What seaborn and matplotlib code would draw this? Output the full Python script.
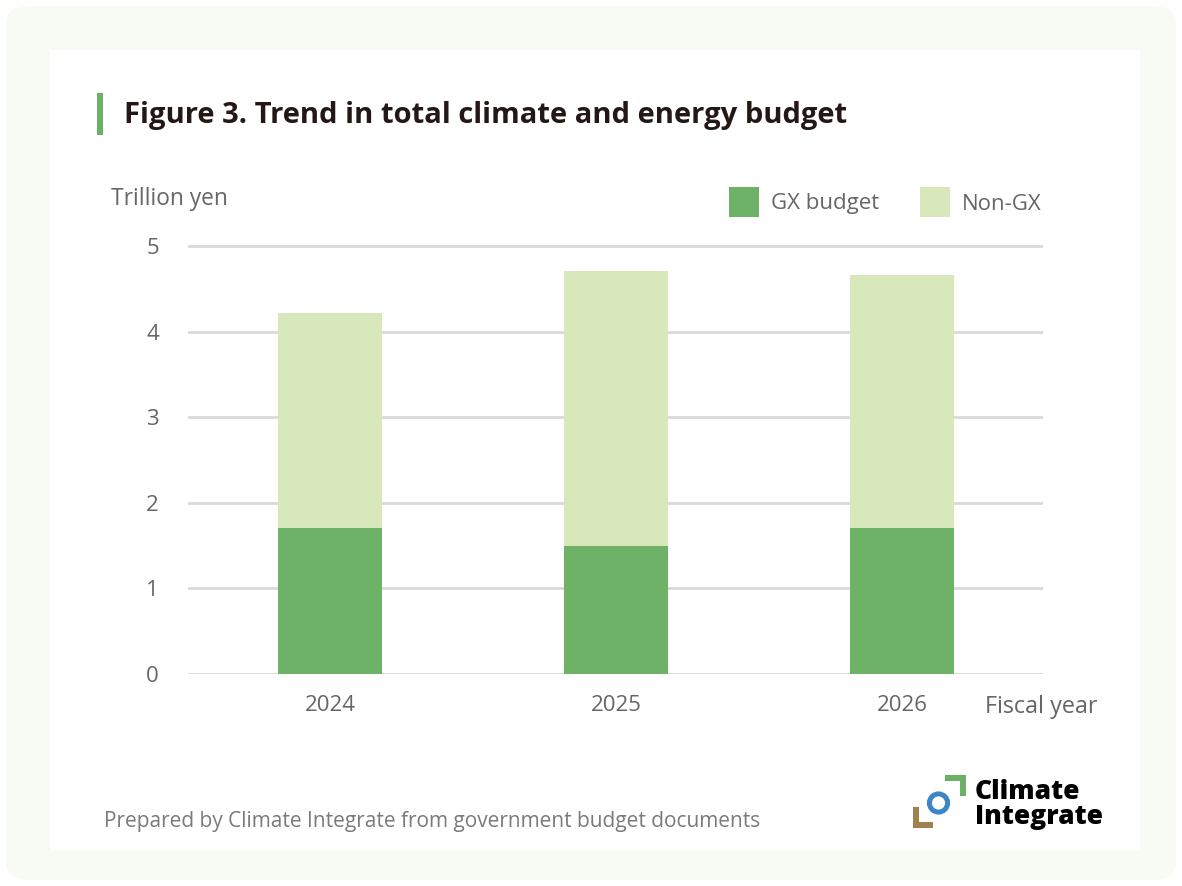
import matplotlib
matplotlib.use("Agg")
import matplotlib.pyplot as plt
from matplotlib.patches import FancyBboxPatch, Rectangle, Circle
import seaborn as sns
import pandas as pd

# Budget data (trillion yen)
years = ["2024", "2025", "2026"]
gx_budget = [1.70, 1.50, 1.70]
non_gx = [2.52, 3.21, 2.96]
y_ticks = [0, 1, 2, 3, 4, 5]

GX_COLOR = "#6db266"
NON_GX_COLOR = "#d8e8ba"
TEXT_GREY = "#666666"
GRID_GREY = "#d9d9d9"

sns.set_theme(style="white")
plt.rcParams["font.family"] = ["Open Sans", "DejaVu Sans"]

W, H = 1182, 886
fig = plt.figure(figsize=(W / 100, H / 100), dpi=100)
fig.patch.set_facecolor("white")


def fx(x):
    return x / W


def fy(y):
    return 1 - y / H


# Background card and inner white panel
fig.patches.append(FancyBboxPatch((fx(6), fy(880)), fx(1170), 874 / H,
                                  boxstyle="round,pad=0,rounding_size=0.02",
                                  transform=fig.transFigure, facecolor="#f8fbf4",
                                  edgecolor="none", zorder=0))
fig.patches.append(Rectangle((fx(50), fy(850)), fx(1090), 800 / H,
                             transform=fig.transFigure, facecolor="white",
                             edgecolor="none", zorder=1))

# Title with accent bar
fig.patches.append(Rectangle((fx(97), fy(135)), fx(6), 42 / H,
                             transform=fig.transFigure, facecolor="#6ab165",
                             edgecolor="none", zorder=2))
fig.text(fx(124), fy(115), "Figure 3. Trend in total climate and energy budget",
         fontsize=21, fontweight="bold", color="#231815", va="center", ha="left",
         zorder=3)

# Plot area
y_per_unit = (674 - 246) / 5
ymax = 5.2
top_px = 674 - ymax * y_per_unit
ax = fig.add_axes([fx(188), fy(674), fx(1043 - 188), (674 - top_px) / H])
ax.set_facecolor("none")
ax.set_zorder(4)

df = pd.DataFrame({"year": years, "gx": gx_budget, "non_gx": non_gx})
sns.barplot(data=df, x="year", y="gx", color=GX_COLOR, width=0.364,
            saturation=1, ax=ax, zorder=3, linewidth=0)
sns.barplot(data=df, x="year", y="non_gx", color=NON_GX_COLOR, width=0.364,
            saturation=1, ax=ax, zorder=3, linewidth=0, bottom=df["gx"])

ax.set_xlim(-0.497, 2.493)
ax.set_ylim(0, ymax)
ax.set_yticks(y_ticks)
ax.yaxis.grid(True, color=GRID_GREY, linewidth=2)
ax.set_axisbelow(True)
for s in ax.spines.values():
    s.set_visible(False)
ax.tick_params(axis="both", length=0, labelsize=16, labelcolor=TEXT_GREY)
ax.tick_params(axis="y", pad=21)
ax.tick_params(axis="x", pad=15)
ax.set_xlabel("")
ax.set_ylabel("")

# Axis captions
fig.text(fx(111), fy(199), "Trillion yen", fontsize=16.4, color=TEXT_GREY,
         va="center", ha="left", zorder=5)
fig.text(fx(985), fy(707), "Fiscal year", fontsize=16.8, color=TEXT_GREY,
         va="center", ha="left", zorder=5)

# Legend
for x0, label, col in [(729, "GX budget", GX_COLOR), (920, "Non-GX", NON_GX_COLOR)]:
    fig.patches.append(Rectangle((fx(x0), fy(217)), fx(30), 30 / H,
                                 transform=fig.transFigure, facecolor=col,
                                 edgecolor="none", zorder=5))
    fig.text(fx(x0 + 42), fy(204), label, fontsize=16, color=TEXT_GREY,
             va="center", ha="left", zorder=5)

# Source note
fig.text(fx(104), fy(821), "Prepared by Climate Integrate from government budget documents",
         fontsize=15, color="#7a7a7a", va="center", ha="left", zorder=5)

# Logo mark
lw = 6 / H
fig.patches.append(Rectangle((fx(945), fy(781)), fx(21), lw, transform=fig.transFigure,
                             facecolor="#6ab165", edgecolor="none", zorder=5))
fig.patches.append(Rectangle((fx(960), fy(796)), fx(6), 21 / H, transform=fig.transFigure,
                             facecolor="#6ab165", edgecolor="none", zorder=5))
fig.patches.append(Rectangle((fx(913), fy(828)), fx(20), lw, transform=fig.transFigure,
                             facecolor="#a0804f", edgecolor="none", zorder=5))
fig.patches.append(Rectangle((fx(913), fy(828)), fx(6), 21 / H, transform=fig.transFigure,
                             facecolor="#a0804f", edgecolor="none", zorder=5))
logo_ax = fig.add_axes([fx(924.5), fy(817), fx(28), 28 / H])
logo_ax.set_zorder(6)
logo_ax.set_xlim(-1, 1)
logo_ax.set_ylim(-1, 1)
logo_ax.set_aspect("equal")
logo_ax.axis("off")
logo_ax.add_patch(Circle((0, 0), 0.65, facecolor="none", edgecolor="#3d86c6",
                         linewidth=3.6))
fig.text(fx(975), fy(792), "Climate", fontsize=19, fontweight="heavy", color="black",
         va="center", ha="left", zorder=5)
fig.text(fx(975), fy(817), "Integrate", fontsize=19, fontweight="heavy", color="black",
         va="center", ha="left", zorder=5)

fig.savefig("out.png", dpi=100)
